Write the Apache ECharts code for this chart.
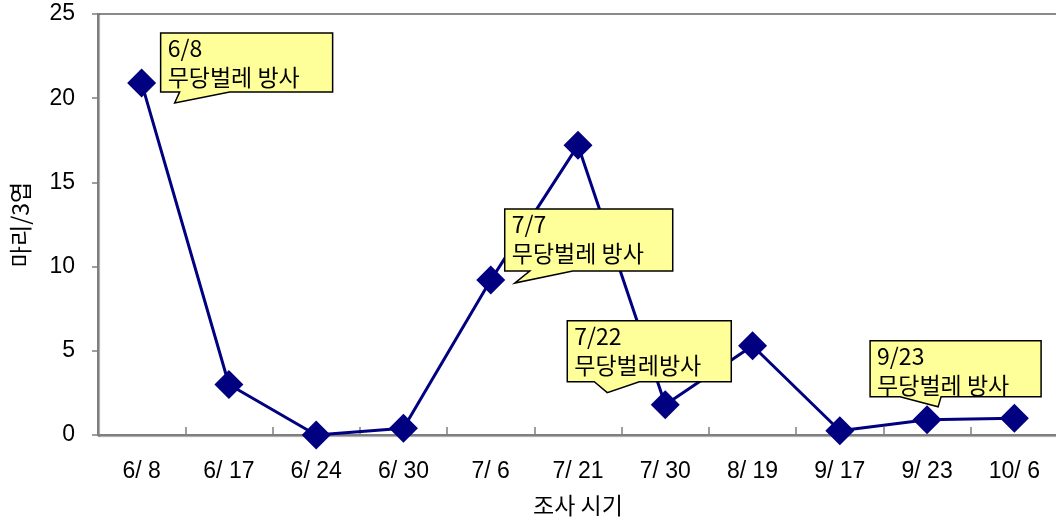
<!DOCTYPE html>
<html>
<head>
<meta charset="utf-8">
<script src="https://cdn.jsdelivr.net/npm/echarts@6/dist/echarts.min.js"></script>
<style>
  html, body { margin: 0; padding: 0; background: #fff; }
  #chart { width: 1056px; height: 526px; }
</style>
</head>
<body>
<div id="chart"></div>
<script>
// Daten
var categories = ['6/ 8', '6/ 17', '6/ 24', '6/ 30', '7/ 6', '7/ 21', '7/ 30', '8/ 19', '9/ 17', '9/ 23', '10/ 6'];
var values = [20.9, 3.0, 0.0, 0.4, 9.2, 17.2, 1.8, 5.3, 0.25, 0.9, 1.0];
var yTicks = [0, 5, 10, 15, 20, 25];

// Sprechblasen: Index des Datenpunkts + Text
var calloutIndex = [0, 4, 6, 9];
var calloutText = ['6/8\n무당벌레 방사', '7/7\n무당벌레 방사', '7/22\n무당벌레방사', '9/23\n무당벌레 방사'];

var chart = echarts.init(document.getElementById('chart'), null, {renderer: 'canvas'});

var greyAxis = {lineStyle: {color: '#7f7f7f', width: 2, shadowColor: 'rgba(0,0,0,0.35)', shadowOffsetX: 1, shadowOffsetY: 1, shadowBlur: 1}};

chart.setOption({
  animation: false,
  grid: {
    left: 98, top: 14, width: 960, height: 421,
    outerBoundsMode: 'none', containLabel: false,
    show: true, borderColor: '#8a8a8a', borderWidth: 2, backgroundColor: 'transparent'
  },
  xAxis: {
    type: 'category',
    data: categories,
    name: '조사 시기',
    nameLocation: 'middle',
    nameGap: 59,
    nameTextStyle: {fontFamily: '"Noto Sans CJK KR"', fontSize: 23, color: '#000'},
    axisLine: greyAxis,
    axisTick: {show: true, inside: true, length: 8, lineStyle: {color: '#7f7f7f', width: 1.5}},
    axisLabel: {fontFamily: '"Liberation Sans", Arial', fontSize: 23, color: '#000', margin: 25}
  },
  yAxis: {
    type: 'value',
    min: yTicks[0],
    max: yTicks[yTicks.length - 1],
    interval: 5,
    name: '마리/3엽',
    nameLocation: 'middle',
    nameGap: 66,
    nameTextStyle: {fontFamily: '"Noto Sans CJK KR"', fontSize: 23, color: '#000'},
    axisLine: Object.assign({show: true}, greyAxis),
    axisTick: {show: true, length: 6, lineStyle: {color: '#7f7f7f', width: 1.5}},
    axisLabel: {fontFamily: '"Liberation Sans", Arial', fontSize: 23, color: '#000', margin: 23},
    splitLine: {show: false}
  },
  series: [{
    type: 'line',
    data: values,
    symbol: 'diamond',
    symbolSize: 29,
    itemStyle: {color: '#000080'},
    lineStyle: {color: '#000080', width: 3}
  }]
});

// Sprechblasen-Geometrie relativ zum Datenpunkt (Pixel)
var calloutShape = [
  {box: [19, -50, 172, 59], tail: [38, 88, 33, 20]},
  {box: [14, -71, 168, 62], tail: [39, 82, 24, 3]},
  {box: [-98, -84, 164, 61], tail: [-71, -26, -58, -12]},
  {box: [-57, -79, 171, 56], tail: [-27, 14, 11, -13]}
];

var graphics = [];
calloutIndex.forEach(function (idx, i) {
  var p = chart.convertToPixel({seriesIndex: 0}, [idx, values[idx]]);
  var s = calloutShape[i];
  var x0 = p[0] + s.box[0], y0 = p[1] + s.box[1];
  var x1 = x0 + s.box[2], y1 = y0 + s.box[3];
  var pts = [
    [x0, y0], [x1, y0], [x1, y1],
    [p[0] + s.tail[1], y1],
    [p[0] + s.tail[2], p[1] + s.tail[3]],
    [p[0] + s.tail[0], y1],
    [x0, y1]
  ];
  graphics.push({
    type: 'polygon',
    z: 100,
    shape: {points: pts},
    style: {fill: '#ffff99', stroke: '#000', lineWidth: 1.5}
  });
  graphics.push({
    type: 'text',
    z: 101,
    x: x0 + 7,
    y: y0 + 1,
    style: {
      text: calloutText[i],
      font: '23px "Noto Sans CJK KR"',
      fill: '#000',
      lineHeight: 29
    }
  });
});
chart.setOption({graphic: graphics});
</script>
</body>
</html>
